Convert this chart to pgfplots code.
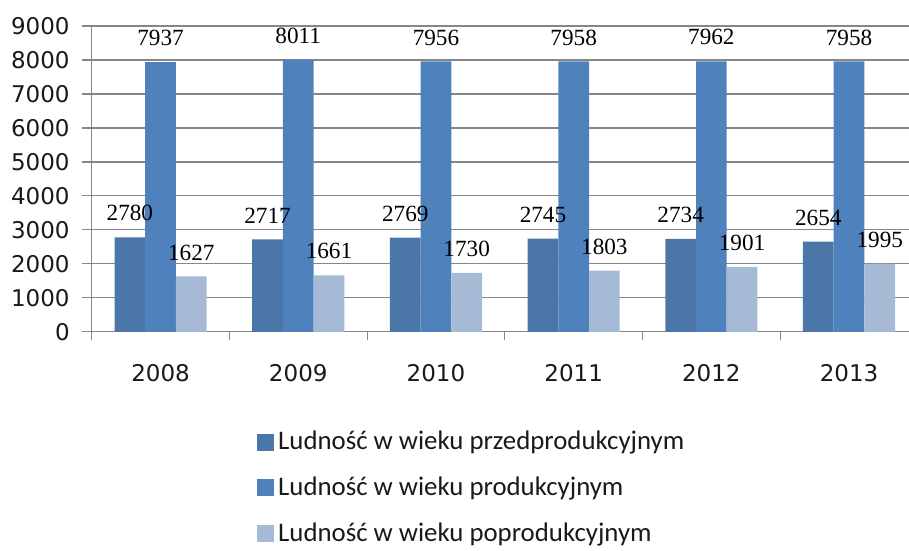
\documentclass[border=0pt]{standalone}
\usepackage{fontspec}
\setmainfont{Carlito}
\newfontfamily\tickfont{DejaVu Sans}
\newfontfamily\labfont{Liberation Serif}
\usepackage{pgfplots}
\pgfplotsset{compat=1.18}
\definecolor{cA}{RGB}{74,118,168}
\definecolor{cB}{RGB}{79,129,189}
\definecolor{cC}{RGB}{166,185,213}
\definecolor{gridc}{RGB}{134,134,134}
\begin{document}
\begin{tikzpicture}
\begin{axis}[
  scale only axis, width=413pt, height=152.85pt,
  ybar=0pt, bar width=15.35pt,
  xmin=-0.5, xmax=5.5, ymin=0, ymax=9000,
  xtick={0,1,2,3,4,5}, xticklabels={2008,2009,2010,2011,2012,2013},
  major x tick style={draw=none},
  minor xtick={-0.5,0.5,1.5,2.5,3.5,4.5,5.5},
  ytick={0,1000,...,9000},
  scaled y ticks=false,
  axis x line*=bottom, axis y line*=left,
  axis line style={gridc, line width=0.6pt, -},
  tick style={gridc, line width=0.6pt},
  tick align=outside,
  major tick length=5pt, minor tick length=4pt,
  ymajorgrids, grid style={gridc, line width=0.6pt},
  /pgf/number format/1000 sep={},
  /pgf/number format/assume math mode=true,
  ticklabel style={font=\tickfont\fontsize{11.5}{14}\selectfont, text=black!90},
  yticklabel style={xshift=-2.5pt},
  xticklabel style={yshift=-8pt},
  nodes near coords,
  every node near coord/.append style={font=\labfont\fontsize{11.6}{13}\selectfont, anchor=center, yshift=12pt, text=black},
  legend image code/.code={\fill[#1] (0pt,-4.25pt) rectangle (8.5pt,4.25pt);},
  legend cell align=left,
  legend style={draw=none, fill=none, at={(0.1925,-0.510)}, anchor=west,
    font=\fontsize{13.4}{15}\selectfont, row sep=8pt, text=black!90},
]
\addplot[fill=cA, draw=none] coordinates {(0,2780) (1,2717) (2,2769) (3,2745) (4,2734) (5,2654)};
\addplot[fill=cB, draw=none] coordinates {(0,7937) (1,8011) (2,7956) (3,7958) (4,7962) (5,7958)};
\addplot[fill=cC, draw=none] coordinates {(0,1627) (1,1661) (2,1730) (3,1803) (4,1901) (5,1995)};
\legend{Ludność w wieku przedprodukcyjnym, Ludność w wieku produkcyjnym, Ludność w wieku poprodukcyjnym}
\end{axis}
\pgfresetboundingbox
\path[use as bounding box] ([xshift=-45.85pt,yshift=-109.15pt]current axis.south west) rectangle ([xshift=-4.45pt,yshift=13pt]current axis.north east);
\end{tikzpicture}
\end{document}
